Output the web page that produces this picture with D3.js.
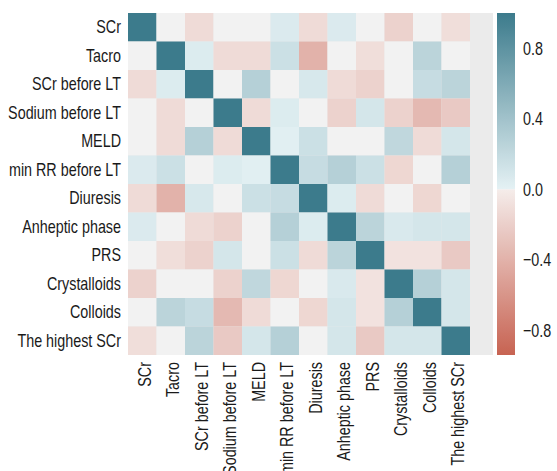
<!DOCTYPE html>
<html lang="en">
<head>
  <meta charset="UTF-8">
  <title>Correlation heatmap</title>
  <script src="https://d3js.org/d3.v7.min.js"></script>
  <style>
    body {
      margin: 0;
      background: #fff;
    }
    text {
      font-family: "Liberation Sans", Arial, sans-serif;
      font-size: 18.5px;
      fill: #1a1a1a;
    }
  </style>
</head>
<body>
  <svg width="557" height="471"></svg>

  <script>
    const variables = [
      "SCr", "Tacro", "SCr before LT", "Sodium before LT", "MELD", "min RR before LT",
      "Diuresis", "Anheptic phase", "PRS", "Crystalloids", "Colloids", "The highest SCr"
    ];

    // correlation matrix, row by row
    const corr = [
      [ 1.00,  0.00, -0.12,  0.00,  0.00,  0.06, -0.12,  0.06,  0.00, -0.18,  0.00, -0.10],
      [ 0.00,  1.00,  0.05, -0.12, -0.12,  0.15, -0.40,  0.00, -0.10,  0.00,  0.25,  0.00],
      [-0.12,  0.05,  1.00,  0.00,  0.28,  0.00,  0.08, -0.12, -0.18,  0.00,  0.18,  0.25],
      [ 0.00, -0.12,  0.00,  1.00, -0.12,  0.05,  0.00, -0.18,  0.10, -0.18, -0.35, -0.24],
      [ 0.00, -0.12,  0.28, -0.12,  1.00,  0.02,  0.15,  0.00,  0.00,  0.22, -0.12,  0.10],
      [ 0.06,  0.15,  0.00,  0.05,  0.02,  1.00,  0.18,  0.28,  0.15, -0.15,  0.00,  0.28],
      [-0.12, -0.40,  0.08,  0.00,  0.15,  0.18,  1.00,  0.05, -0.12,  0.00, -0.15,  0.00],
      [ 0.06,  0.00, -0.12, -0.18,  0.00,  0.28,  0.05,  1.00,  0.25,  0.07,  0.10,  0.10],
      [ 0.00, -0.10, -0.18,  0.10,  0.00,  0.15, -0.12,  0.25,  1.00, -0.07, -0.07, -0.24],
      [-0.18,  0.00,  0.00, -0.18,  0.22, -0.15,  0.00,  0.07, -0.07,  1.00,  0.28,  0.10],
      [ 0.00,  0.25,  0.18, -0.35, -0.12,  0.00, -0.15,  0.10, -0.07,  0.28,  1.00,  0.10],
      [-0.10,  0.00,  0.25, -0.24,  0.10,  0.28,  0.00,  0.10, -0.24,  0.10,  0.10,  1.00]
    ];

    const colorbarTicks = [0.8, 0.4, 0.0, -0.4, -0.8];
    const colorbarRange = [-0.94, 1.0];

    const svg = d3.select("svg");
    const marginLeft = 128, marginTop = 13, cell = 28.5;
    const size = cell * variables.length;
    const squeeze = 0.775; // schmale Schrift nachbilden

    const x = d3.scaleBand().domain(variables).range([marginLeft, marginLeft + size]);
    const y = d3.scaleBand().domain(variables).range([marginTop, marginTop + size]);

    // Farbskala wie seaborn diverging_palette: rot -> rosa-grau | hellgrau | blau-grau -> petrol
    const color = d3.scaleLinear()
      .domain([-1, -0.004, 0, 0.004, 1])
      .range(["#c45a48", "#f5ecea", "#f2f2f2", "#e4f1f4", "#3c7b8c"])
      .interpolate(d3.interpolateRgb)
      .clamp(true);

    // grauer Hintergrund der Achse
    svg.append("rect")
      .attr("x", marginLeft)
      .attr("y", marginTop)
      .attr("width", 493 - marginLeft)
      .attr("height", size)
      .attr("fill", "#ebebeb");

    const cells = [];
    corr.forEach((row, i) => row.forEach((v, j) => cells.push({ r: variables[i], c: variables[j], v })));

    svg.append("g").selectAll("rect")
      .data(cells)
      .join("rect")
      .attr("x", d => x(d.c))
      .attr("y", d => y(d.r))
      .attr("width", x.bandwidth())
      .attr("height", y.bandwidth())
      .attr("fill", d => color(d.v));

    // y-Achse
    const yAxis = svg.append("g")
      .attr("transform", `translate(${marginLeft},0)`)
      .call(d3.axisLeft(y).tickSize(0));
    yAxis.select(".domain").remove();
    yAxis.selectAll("text")
      .attr("font-size", null)
      .attr("font-family", null)
      .attr("x", -7 / squeeze)
      .attr("transform", `scale(${squeeze},1)`);

    // x-Achse
    const xAxis = svg.append("g")
      .attr("transform", `translate(0,${marginTop + size})`)
      .call(d3.axisBottom(x).tickSize(0));
    xAxis.select(".domain").remove();
    xAxis.selectAll("text")
      .attr("font-size", null)
      .attr("font-family", null)
      .attr("transform", `rotate(-90) scale(${squeeze},1)`)
      .attr("x", -7 / squeeze)
      .attr("y", 2)
      .attr("dy", "0.35em")
      .style("text-anchor", "end");

    // Farbleiste
    const cbX = 497, cbW = 18;
    const cb = d3.scaleLinear().domain(colorbarRange).range([marginTop + size, marginTop]);

    const grad = svg.append("defs").append("linearGradient")
      .attr("id", "cbgrad")
      .attr("x1", 0).attr("y1", 1).attr("x2", 0).attr("y2", 0);
    const stops = d3.range(-0.94, 1.0001, 0.02).concat([-0.004, 0, 0.004]).sort(d3.ascending);
    stops.forEach(v => {
      grad.append("stop")
        .attr("offset", (v - colorbarRange[0]) / (colorbarRange[1] - colorbarRange[0]))
        .attr("stop-color", color(v));
    });

    svg.append("rect")
      .attr("x", cbX)
      .attr("y", marginTop)
      .attr("width", cbW)
      .attr("height", size)
      .attr("fill", "url(#cbgrad)");

    const cbAxis = svg.append("g")
      .attr("transform", `translate(${cbX + cbW},0)`)
      .call(d3.axisRight(cb).tickValues(colorbarTicks).tickSize(0)
        .tickFormat(d => d3.format(".1f")(d).replace("-", "\u2212")));
    cbAxis.select(".domain").remove();
    cbAxis.selectAll("text")
      .attr("font-size", null)
      .attr("font-family", null)
      .attr("x", 8 / squeeze)
      .attr("transform", `scale(${squeeze},1)`);
  </script>
</body>
</html>
